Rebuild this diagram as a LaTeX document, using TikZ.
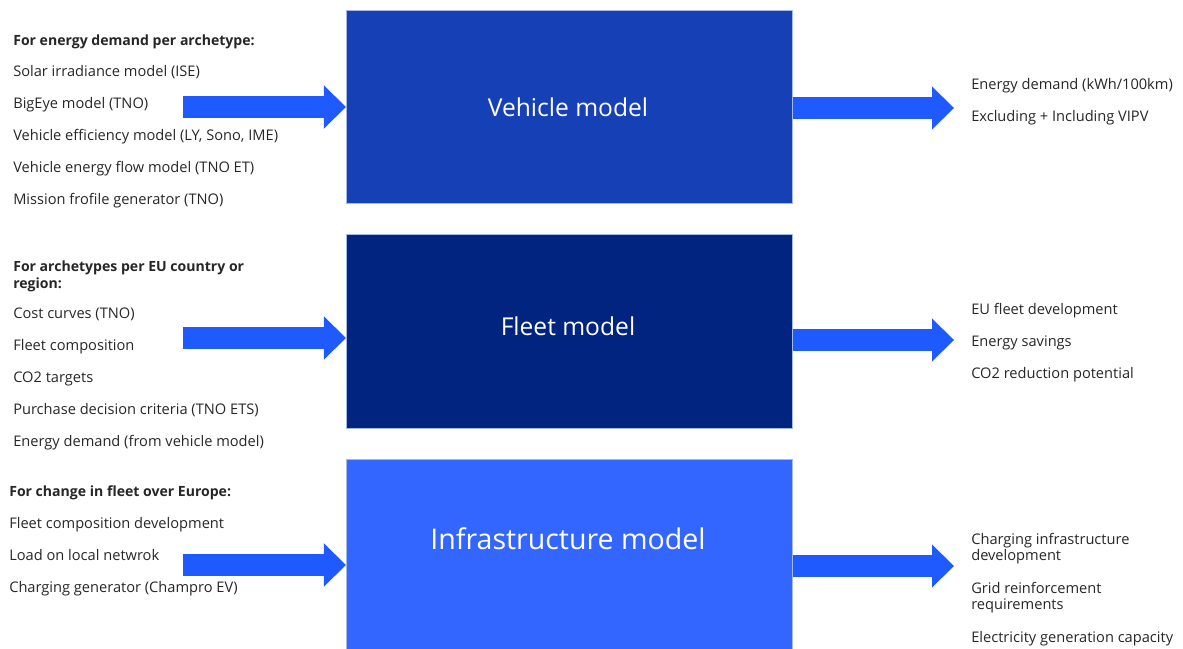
\documentclass[tikz,border=0pt]{standalone}
\usepackage{fontspec}
\setmainfont{Open Sans}
\usepackage{xcolor}
\usepackage{tikz}
\usetikzlibrary{arrows.meta,positioning,calc}

\begin{document}
\begin{tikzpicture}[
  x=0.025cm, y=-0.025cm,
  font=\fontsize{10.4}{11.5}\selectfont,
  item/.style={anchor=west, inner sep=0pt, text=black!85, align=left,
    text height=1.5ex, text depth=.4ex},
  head/.style={item, font=\fontsize{10}{11.5}\selectfont\bfseries},
  modelbox/.style={draw=edgeblue, line width=0.4pt, anchor=north west,
    minimum width=11.15cm, inner sep=0pt},
  boxtitle/.style={text=white, inner sep=0pt, font=\fontsize{17.5}{21}\selectfont},
  blockarrow/.style={draw=arrowblue, line width=0.55cm,
    -{Triangle[length=0.55cm, width=1.075cm, line width=0pt]}}
]

\definecolor{vehicleblue}{RGB}{22,64,181}
\definecolor{fleetnavy}{RGB}{0,36,128}
\definecolor{infrablue}{RGB}{51,102,255}
\definecolor{arrowblue}{RGB}{31,90,255}
\definecolor{edgeblue}{RGB}{165,185,230}

\useasboundingbox (0,0) rectangle (1183,649);

% the three model blocks, stacked
\node[modelbox, fill=vehicleblue, minimum height=4.825cm] (vehicle) at (346,10) {};
\node[modelbox, fill=fleetnavy, minimum height=4.85cm] (fleet) at (346,234) {};
\node[modelbox, fill=infrablue, minimum height=5.0cm] (infra) at (346,459) {};

\node[boxtitle] (vehicletitle) at (568,107) {Vehicle model};
\node[boxtitle] (fleettitle) at (568,326) {Fleet model};
\node[boxtitle, font=\fontsize{20.3}{24}\selectfont] (infratitle) at (568,539) {Infrastructure model};

% inputs, left column
\node[head] (vehhead) at (13,41) {For energy demand per archetype:};
\foreach \t [count=\i] in {Solar irradiance model (ISE), BigEye model (TNO),
    {Vehicle efficiency model (LY, Sono, IME)}, Vehicle energy flow model (TNO ET),
    Mission frofile generator (TNO)}
  \node[item] (vehin\i) at (13,40+32*\i) {\t};

\node[head] (fleethead) at (13,284) {For archetypes per EU country or\\region:};
\foreach \t [count=\i] in {Cost curves (TNO), Fleet composition, CO2 targets,
    Purchase decision criteria (TNO ETS), Energy demand (from vehicle model)}
  \node[item] (fleetin\i) at (13,282+32*\i) {\t};

\node[head] (infrahead) at (9,492) {For change in fleet over Europe:};
\foreach \t [count=\i] in {Fleet composition development, Load on local netwrok,
    Charging generator (Champro EV)}
  \node[item] (infrain\i) at (9,492+32*\i) {\t};

% outputs, right column
\foreach \t [count=\i] in {Energy demand (kWh/100km), Excluding + Including VIPV}
  \node[item] (vehout\i) at (971,53+32*\i) {\t};
\foreach \t [count=\i] in {EU fleet development, Energy savings, CO2 reduction potential}
  \node[item] (fleetout\i) at (971,278+32*\i) {\t};
\node[item, text height=, text depth=] (infraout1) at (971,549) {Charging infrastructure\\development};
\node[item, text height=, text depth=] (infraout2) at (971,598) {Grid reinforcement\\requirements};
\node[item] (infraout3) at (971,638) {Electricity generation capacity};

% block arrows in and out of each model
\coordinate (vehin) at (183,107);
\coordinate (vehout) at (954,108);
\coordinate (fleetin) at (183,338);
\coordinate (fleetout) at (954,340);
\coordinate (infrain) at (183,565);
\coordinate (infraout) at (954,566);

\draw[blockarrow] (vehin) -- (vehin -| vehicle.west);
\draw[blockarrow] (vehicle.east |- vehout) -- (vehout);
\draw[blockarrow] (fleetin) -- (fleetin -| fleet.west);
\draw[blockarrow] (fleet.east |- fleetout) -- (fleetout);
\draw[blockarrow] (infrain) -- (infrain -| infra.west);
\draw[blockarrow] (infra.east |- infraout) -- (infraout);

\end{tikzpicture}
\end{document}
